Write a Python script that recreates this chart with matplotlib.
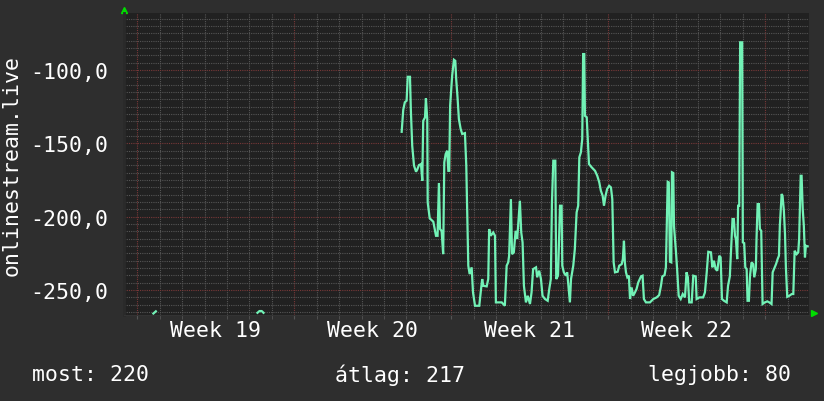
import numpy as np
import matplotlib.pyplot as plt
from matplotlib.ticker import FuncFormatter

# time in days from the start of week 19, value of onlinestream.live
days = [11.79, 11.86, 11.93, 12.01, 12.06, 12.16, 12.20, 12.26, 12.34, 12.43, 12.48, 12.56,
        12.65, 12.71, 12.75, 12.83, 12.87, 12.93, 12.95, 13.04, 13.20, 13.32, 13.39, 13.45,
        13.50, 13.57, 13.64, 13.69, 13.75, 13.82, 13.87, 13.91, 13.95, 14.04, 14.12, 14.18,
        14.22, 14.28, 14.34, 14.42, 14.49, 14.61, 14.67, 14.76, 14.82, 14.91, 14.97, 15.06,
        15.25, 15.32, 15.38, 15.43, 15.58, 15.65, 15.69, 15.76, 15.87, 15.95, 15.99, 16.25,
        16.32, 16.39, 16.47, 16.54, 16.58, 16.66, 16.71, 16.79, 16.87, 16.94, 17.06, 17.12,
        17.18, 17.24, 17.33, 17.41, 17.51, 17.58, 17.65, 17.78, 17.83, 17.92, 18.00, 18.07,
        18.18, 18.30, 18.37, 18.44, 18.49, 18.55, 18.64, 18.68, 18.76, 18.85, 18.92, 18.95,
        19.02, 19.11, 19.17, 19.25, 19.29, 19.34, 19.44, 19.51, 19.59, 19.66, 19.71, 19.78,
        19.84, 19.88, 19.93, 19.96, 20.04, 20.08, 20.14, 20.26, 20.41, 20.51, 20.60, 20.67,
        20.75, 20.81, 20.88, 20.95, 21.04, 21.12, 21.18, 21.24, 21.30, 21.42, 21.49, 21.60,
        21.65, 21.70, 21.74, 21.79, 21.85, 21.92, 21.97, 22.04, 22.11, 22.19, 22.26, 22.34,
        22.46, 22.53, 22.59, 22.68, 22.86, 23.01, 23.16, 23.27, 23.35, 23.41, 23.51, 23.57,
        23.65, 23.70, 23.75, 23.81, 23.84, 23.90, 23.93, 24.02, 24.07, 24.14, 24.23, 24.32,
        24.42, 24.49, 24.55, 24.61, 24.72, 24.79, 24.90, 24.94, 25.06, 25.23, 25.31, 25.39,
        25.46, 25.58, 25.64, 25.71, 25.79, 25.86, 25.95, 26.01, 26.07, 26.16, 26.28, 26.34,
        26.42, 26.54, 26.60, 26.65, 26.69, 26.75, 26.79, 26.84, 26.88, 26.97, 27.00, 27.06,
        27.11, 27.17, 27.21, 27.27, 27.32, 27.39, 27.46, 27.51, 27.58, 27.61, 27.66, 27.72,
        27.76, 27.82, 27.88, 27.98, 28.09, 28.18, 28.28, 28.33, 28.39, 28.48, 28.55, 28.61,
        28.65, 28.73, 28.77, 28.83, 28.88, 28.92, 28.98, 29.07, 29.18, 29.25, 29.31, 29.40,
        29.47, 29.51, 29.58, 29.62, 29.67, 29.72, 29.77, 29.81, 29.89]
vals = [-142.1, -127.1, -122.0, -120.9, -104.6, -104.6, -127.7, -151.6, -165.2, -169.3, -168.0, -164.8,
        -164.1, -175.5, -134.6, -132.3, -119.3, -133.4, -190.2, -201.1, -203.4, -213.0, -213.0, -177.0,
        -208.4, -209.6, -225.5, -162.9, -157.3, -155.0, -168.7, -168.7, -124.3, -103.9, -93.0, -93.7,
        -106.1, -118.6, -133.4, -140.2, -143.6, -143.0, -165.2, -233.4, -239.1, -234.5, -251.6, -260.7,
        -260.7, -250.5, -242.5, -247.1, -247.5, -242.5, -208.4, -213.0, -210.7, -213.0, -258.4, -258.4,
        -259.5, -260.7, -233.4, -231.1, -226.6, -188.0, -225.5, -224.3, -209.6, -215.2, -189.1, -210.7,
        -217.5, -247.1, -258.4, -253.9, -259.5, -251.6, -235.7, -234.5, -241.3, -236.8, -242.5, -253.9,
        -256.1, -257.3, -249.3, -242.5, -190.2, -161.8, -161.8, -242.5, -240.2, -192.5, -192.5, -233.4,
        -237.9, -240.2, -237.9, -251.6, -258.4, -242.5, -233.4, -222.0, -197.0, -192.5, -159.5, -156.1,
        -147.0, -89.1, -89.1, -131.2, -132.2, -144.8, -164.1, -166.3, -168.7, -172.1, -176.6, -182.3,
        -185.7, -192.5, -185.7, -181.1, -178.9, -180.0, -188.0, -231.1, -237.9, -237.5, -233.4, -232.3,
        -228.9, -216.4, -231.1, -237.9, -241.3, -240.2, -256.1, -248.2, -253.9, -251.6, -249.3, -244.7,
        -240.7, -240.2, -256.1, -258.4, -258.4, -256.1, -255.0, -253.4, -247.1, -240.7, -239.8, -234.5,
        -176.2, -176.6, -230.7, -231.1, -169.7, -170.2, -206.2, -224.3, -235.7, -253.9, -256.1, -252.7,
        -255.0, -237.9, -241.3, -258.4, -258.4, -240.2, -240.7, -256.1, -255.0, -255.0, -251.6, -237.9,
        -223.9, -224.3, -234.5, -230.0, -235.7, -236.8, -226.6, -227.7, -256.1, -257.3, -258.4, -247.1,
        -240.7, -201.6, -201.6, -213.0, -215.2, -228.9, -192.5, -192.5, -81.1, -81.1, -217.5, -218.0,
        -234.5, -235.7, -257.3, -257.3, -240.2, -231.1, -232.3, -241.3, -235.7, -215.2, -191.4, -191.4,
        -208.4, -209.6, -259.5, -258.4, -257.7, -258.4, -259.5, -237.9, -235.7, -232.3, -228.9, -226.6,
        -206.2, -184.5, -185.7, -196.0, -211.8, -234.5, -254.6, -253.9, -252.7, -252.7, -223.2, -225.5,
        -224.3, -215.2, -172.1, -172.1, -194.8, -206.2, -227.7, -219.8, -220.2]

# two short fragments near the bottom during week 19
frag1_days = [0.72, 0.83]
frag1_vals = [-266.0, -264.5]
frag2_days = [5.36, 5.45, 5.55, 5.63]
frag2_vals = [-265.5, -264.3, -264.3, -265.5]

week_labels = ['Week 19', 'Week 20', 'Week 21', 'Week 22']
week_starts = [0, 7, 14, 21, 28]

bg = '#2e2e2e'
plot_bg = '#212121'
line_col = '#72f2b6'
minor_col = '#555555'
major_col = '#783838'
fs = 15.5

plt.rcParams['font.family'] = ['DejaVu Sans Mono', 'DejaVu Sans']

fig = plt.figure(figsize=(8.24, 4.02), dpi=100, facecolor=bg)
ax = fig.add_axes([124/824, 86/402, 685/824, 302/402], facecolor=plot_bg)

ax.plot(days, vals, color=line_col, lw=1.6, solid_joinstyle='miter')
ax.plot(frag1_days, frag1_vals, color=line_col, lw=1.6)
ax.plot(frag2_days, frag2_vals, color=line_col, lw=1.6)

ax.set_xlim(-0.59, 29.95)
ax.set_ylim(-267.0, -61.1)

ax.set_xticks(week_starts)
ax.set_xticks(np.arange(0, 30), minor=True)
ax.set_yticks([-250, -200, -150, -100])
ax.set_yticks(np.arange(-265, -60, 5), minor=True)

ax.grid(which='minor', color=minor_col, lw=0.8, ls=(0, (1, 1)))
ax.grid(which='major', color=major_col, lw=0.8, ls=(0, (1, 1)))
ax.set_axisbelow(True)

ax.yaxis.set_major_formatter(FuncFormatter(lambda v, p: '{:.1f}'.format(v).replace('.', ',')))
ax.set_xticklabels([])
ax.tick_params(axis='y', length=0, pad=11.5, labelsize=fs, colors='white')
ax.tick_params(axis='x', which='both', length=3, color='#555555', direction='out')
ax.tick_params(axis='y', which='minor', length=0)

for s in ['top', 'right']:
    ax.spines[s].set_visible(False)
ax.spines['left'].set_color('#2a2a2a')
ax.spines['left'].set_linewidth(2)
ax.spines['bottom'].set_color('#333333')

for i, lab in enumerate(week_labels):
    ax.text(week_starts[i] + 3.5, -0.05, lab, transform=ax.get_xaxis_transform(),
            ha='center', va='center', color='white', fontsize=fs)

# rrdtool style arrows
ax.plot([0], [1.011], marker='^', color='#00dd00', ms=5, transform=ax.transAxes, clip_on=False)
ax.plot([1.0073], [0.005], marker='>', color='#00dd00', ms=5, transform=ax.transAxes, clip_on=False)

fig.text(12/824, 1 - 165/402, 'onlinestream.live', rotation=90, ha='center', va='center',
         color='white', fontsize=fs)
fig.text(32/824, 1 - 375/402, 'most: 220', ha='left', va='center', color='white', fontsize=fs)
fig.text(335/824, 1 - 375/402, 'átlag: 217', ha='left', va='center', color='white', fontsize=fs)
fig.text(791/824, 1 - 375/402, 'legjobb: 80', ha='right', va='center', color='white', fontsize=fs)

fig.savefig('out.png', dpi=100, facecolor=bg)
